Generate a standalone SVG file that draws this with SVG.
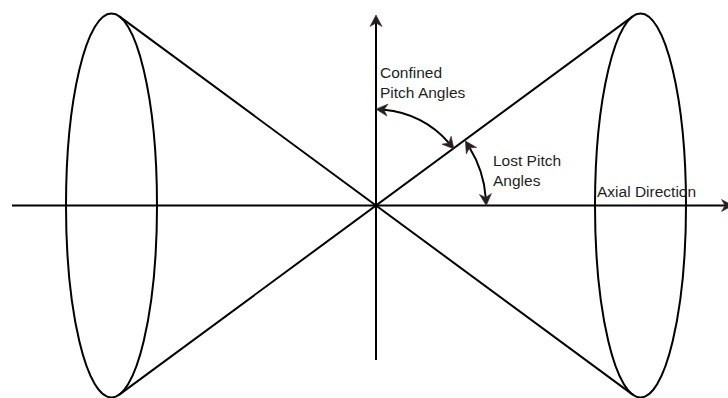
<svg xmlns="http://www.w3.org/2000/svg" width="728" height="398" viewBox="0 0 728 398">
<style>
.ln{fill:none;stroke:#000;stroke-width:2}
.t{font-family:"Liberation Sans",Arial,sans-serif;font-size:15.5px;fill:#231f20}
</style>
<defs>
<marker id="ah" markerUnits="userSpaceOnUse" markerWidth="30" markerHeight="30" viewBox="-10 -10 30 20" refX="0" refY="0" orient="auto-start-reverse" overflow="visible">
<path d="M8,0 L-3.5,-6 L0,0 L-3.5,6 Z" fill="#231f20" stroke="#4a2329" stroke-width="0.6" stroke-linejoin="miter"/>
</marker>
</defs>
<g id="left-cone">
<ellipse class="ln" cx="111.5" cy="205.5" rx="45.5" ry="192"/>
</g>
<g id="right-cone">
<ellipse class="ln" cx="640.5" cy="205.5" rx="45.5" ry="192"/>
</g>
<g id="connectors">
<line class="ln" x1="119.3" y1="16.4" x2="632.7" y2="394.6"/>
<line class="ln" x1="119.3" y1="394.6" x2="632.7" y2="16.4"/>
<line class="ln" x1="12" y1="205.5" x2="725" y2="205.5" marker-end="url(#ah)"/>
<line class="ln" x1="376" y1="360" x2="376" y2="23" marker-end="url(#ah)"/>
<path class="ln" d="M384,109.8 A96,96 0 0 1 448.8,142.9" marker-start="url(#ah)" marker-end="url(#ah)"/>
<path class="ln" d="M469.6,147.7 A110,110 0 0 1 485.7,197.5" marker-start="url(#ah)" marker-end="url(#ah)"/>
</g>
<g id="labels">
<text class="t" x="380" y="78">Confined</text>
<text class="t" x="380" y="98">Pitch Angles</text>
<text class="t" x="493" y="165.5">Lost Pitch</text>
<text class="t" x="493" y="185.5">Angles</text>
<text class="t" x="597" y="197">Axial Direction</text>
</g>
</svg>
